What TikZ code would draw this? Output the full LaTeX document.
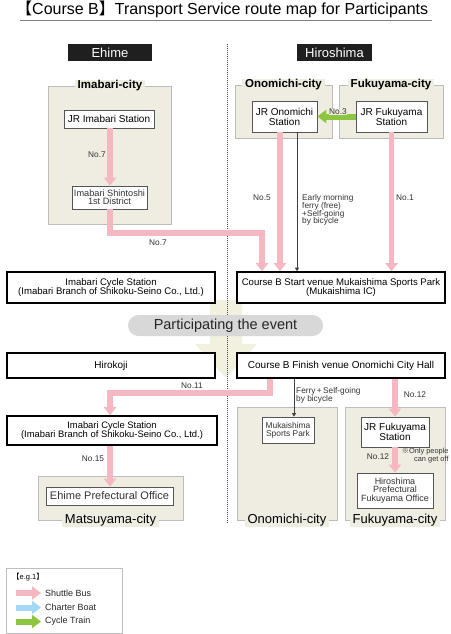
\documentclass[tikz,border=0pt]{standalone}
\usepackage{fontspec}
\setmainfont{Liberation Sans}
\newfontfamily\cjk{Noto Sans CJK JP}
\usetikzlibrary{arrows.meta}
\definecolor{busc}{HTML}{F5B8C2}
\definecolor{boatc}{HTML}{A3D7F3}
\definecolor{trainc}{HTML}{8CC63F}
\definecolor{beige}{HTML}{EFEDE1}
\definecolor{bigarrow}{HTML}{F2F0DE}
\definecolor{regline}{HTML}{BDBDBD}
\definecolor{pillc}{HTML}{D8D8D8}
\definecolor{boxline}{HTML}{555555}
\newcommand{\fs}[1]{\fontsize{#1}{#1}\selectfont}
\begin{document}
\begin{tikzpicture}[x=1pt,y=-1pt,
  region/.style={draw=regline, fill=beige, line width=0.9pt, inner sep=0pt},
  citylabel/.style={fill=beige, inner xsep=3pt, inner ysep=1pt, font=\fs{11.5}\bfseries},
  citylabelb/.style={fill=beige, inner xsep=3pt, inner ysep=1pt, font=\fs{13}},
  stn/.style={draw=boxline, fill=white, line width=0.7pt, align=center, inner sep=1pt, font=\fs{10}},
  stnsmall/.style={stn, font=\fs{8.2}, text=black!80},
  venue/.style={draw=black, line width=1.6pt, fill=white, align=center, inner sep=1pt, font=\fs{9.6}},
  hdr/.style={fill=black!88, text=white, inner sep=0pt, font=\fs{13}},
  bus/.style={draw=busc, line width=5.5pt, -{Triangle[width=12pt,length=8pt]}},
  train/.style={draw=trainc, line width=6pt, -{Triangle[width=13pt,length=9pt]}},
  boat/.style={draw=boatc, line width=6pt, -{Triangle[width=13pt,length=9pt]}},
  thin/.style={draw=black!75, line width=0.8pt, -{Triangle[width=4pt,length=3.5pt]}},
  lbl/.style={font=\fs{8.3}, text=black!80, inner sep=0pt},
  lbll/.style={lbl, anchor=west, align=left, font=\fs{8.3}\linespread{0.95}\selectfont}
]
\clip (0,0) rectangle (450,634);
\fill[white] (0,0) rectangle (450,634);

% title
\node[anchor=west, inner sep=0pt, font=\fs{16}] (title) at (16,9.5)
  {{\cjk 【}Course B{\cjk 】}Transport Service route map for Participants};
\coordinate (ul1) at (20,20.5);
\coordinate (ul2) at (432,20.5);
\draw[gray, line width=1pt] (ul1) -- (ul2);

% big background arrow
\fill[bigarrow] (210,300) -- (242,300) -- (242,344) -- (257,344) -- (226,378) -- (195,344) -- (210,344) -- cycle;

% divider
\coordinate (dv1) at (227,44);
\coordinate (dv2) at (227,523);
\draw[black!70, line width=0.8pt, dash pattern=on 0.9pt off 1.1pt] (dv1) -- (dv2);

% headers
\node[hdr, minimum width=84pt, minimum height=17pt] (ehime) at (110,52.5) {Ehime};
\node[hdr, minimum width=75pt, minimum height=17pt] (hiro) at (334.5,52.5) {Hiroshima};

% regions
\node[region, minimum width=123pt, minimum height=138pt] (imabaricity) at (109.5,155) {};
\node[citylabel] (imabarilbl) at (110,86) {Imabari-city};
\node[region, minimum width=97pt, minimum height=53pt] (onocity) at (283.5,111.5) {};
\node[citylabel] (onolbl) at (283.5,85) {Onomichi-city};
\node[region, minimum width=104pt, minimum height=53pt] (fukucity) at (391,111.5) {};
\node[citylabel] (fukulbl) at (391,85) {Fukuyama-city};

\node[region, minimum width=145pt, minimum height=44pt] (matsucity) at (110.5,498) {};
\node[citylabelb] (matsulbl) at (110.5,520) {Matsuyama-city};
\node[region, minimum width=100pt, minimum height=113pt] (onocity2) at (287,463.5) {};
\node[citylabelb] (onolbl2) at (287,520) {Onomichi-city};
\node[region, minimum width=100pt, minimum height=113pt] (fukucity2) at (395,463.5) {};
\node[citylabelb] (fukulbl2) at (395,520) {Fukuyama-city};

% stations
\node[stn, minimum width=90pt, minimum height=18pt] (jrimabari) at (109,119) {JR Imabari Station};
\node[stnsmall, minimum width=75pt, minimum height=23pt, font=\fs{9.2}\linespread{0.9}\selectfont] (shintoshi) at (109.5,197.5) {Imabari Shintoshi\\1st District};
\node[stn, minimum width=65pt, minimum height=31pt] (jrono) at (284.5,116.5) {JR Onomichi\\Station};
\node[stn, minimum width=71pt, minimum height=31pt] (jrfuku) at (391.5,116.5) {JR Fukuyama\\Station};

\node[venue, minimum width=208pt, minimum height=31pt] (imacyc1) at (111,287.5) {Imabari Cycle Station\\(Imabari Branch of Shikoku-Seino Co., Ltd.)};
\node[venue, minimum width=208pt, minimum height=31pt] (startv) at (341,287.5) {Course B Start venue Mukaishima Sports Park\\(Mukaishima IC)};

\node[fill=pillc, rounded corners=10.5pt, minimum width=195pt, minimum height=21pt, inner sep=0pt, font=\fs{14.5}, text=black!85] (part) at (225.5,325.5) {Participating the event};

\node[venue, minimum width=208pt, minimum height=25pt, font=\fs{10}] (hirokoji) at (111,365.5) {Hirokoji};
\node[venue, minimum width=208pt, minimum height=25pt, font=\fs{10}] (finishv) at (341,365.5) {Course B Finish venue Onomichi City Hall};

\node[venue, minimum width=210pt, minimum height=29pt, font=\fs{9.4}] (imacyc2) at (112,430.5) {Imabari Cycle Station\\(Imabari Branch of Shikoku-Seino Co., Ltd.)};
\node[stn, minimum width=127pt, minimum height=18pt, text=black!80, font=\fs{11}] (ehimepo) at (109.5,496) {Ehime Prefectural Office};
\node[stnsmall, minimum width=52pt, minimum height=26pt, font=\fs{8.4}\linespread{0.95}\selectfont] (mukai) at (288,430) {Mukaishima\\Sports Park};
\node[stn, minimum width=68pt, minimum height=30pt] (jrfuku2) at (395,432) {JR Fukuyama\\Station};
\node[stn, minimum width=76pt, minimum height=35pt, font=\fs{9}\linespread{0.95}\selectfont, text=black!80] (hpfo) at (395,490.5) {Hiroshima\\Prefectural\\Fukuyama Office};

% helper coordinates
\coordinate (x110) at (110,0);
\coordinate (x262) at (262,0);
\coordinate (x270) at (270,0);
\coordinate (x280) at (280,0);
\coordinate (x294) at (294,0);
\coordinate (x297) at (297,0);
\coordinate (x395) at (395,0);
\coordinate (c7) at (262,233);
\coordinate (c11) at (110,393);

% connectors
\draw[bus] (jrimabari.south -| x110) -- (shintoshi.north -| x110);
\draw[bus] (shintoshi.south -| x110) |- (c7) -- (startv.north -| x262);
\draw[bus] (jrono.south -| x280) -- (startv.north -| x280);
\draw[thin] (jrono.south -| x297) -- (startv.north -| x297);
\draw[bus] (jrfuku.south) -- (jrfuku.south |- startv.north);
\draw[train] (jrfuku.west) -- (jrono.east);

\draw[bus] (finishv.south -| x270) |- (c11) -- (imacyc2.north -| x110);
\draw[bus] (imacyc2.south -| x110) -- (ehimepo.north -| x110);
\draw[thin] (finishv.south -| x294) -- (mukai.north -| x294);
\draw[bus] (finishv.south -| x395) -- (jrfuku2.north);
\draw[bus] (jrfuku2.south) -- (hpfo.north);

% labels
\node[lbl] (l7a) at (97,155) {No.7};
\node[lbl] (l7b) at (158,243) {No.7};
\node[lbl, fill=beige, inner sep=0.5pt] (l3) at (338,112) {No.3};
\node[lbl] (l5) at (262,198) {No.5};
\node[lbl] (l1) at (405,198) {No.1};
\node[lbll] (lferry) at (302,210) {Early morning\\ferry (free)\\+Self-going\\by bicycle};
\node[lbl] (l11) at (192,386) {No.11};
\node[lbl] (l15) at (93,459) {No.15};
\node[lbll] (lferry2) at (296,395) {Ferry\,+\,Self-going\\by bicycle};
\node[lbl] (l12a) at (415,395) {No.12};
\node[lbl] (l12b) at (378,457) {No.12};
\node[lbll, align=right, anchor=north west, font=\fs{7.4}\linespread{1.05}\selectfont] (lonly) at (401.5,448) {{\cjk ※}Only people\\can get off};

% legend
\node[draw=regline, line width=0.9pt, minimum width=116pt, minimum height=65pt, inner sep=0pt] (legend) at (64,600.5) {};
\node[anchor=west, inner sep=0pt, font=\fs{7.5}] (eg) at (12,577) {{\cjk 【}e.g.1{\cjk 】}};
\coordinate (la1) at (16,593);
\coordinate (lb1) at (41,593);
\coordinate (la2) at (16,607.5);
\coordinate (lb2) at (41,607.5);
\coordinate (la3) at (16,621.5);
\coordinate (lb3) at (41,621.5);
\draw[bus, line width=6pt, -{Triangle[width=13pt,length=9pt]}] (la1) -- (lb1);
\draw[boat] (la2) -- (lb2);
\draw[train] (la3) -- (lb3);
\node[anchor=west, inner sep=0pt, font=\fs{9}, text=black!85] (t1) at (45,593) {Shuttle Bus};
\node[anchor=west, inner sep=0pt, font=\fs{9}, text=black!85] (t2) at (45,607.5) {Charter Boat};
\node[anchor=west, inner sep=0pt, font=\fs{9}, text=black!85] (t3) at (45,621.5) {Cycle Train};
\end{tikzpicture}
\end{document}
